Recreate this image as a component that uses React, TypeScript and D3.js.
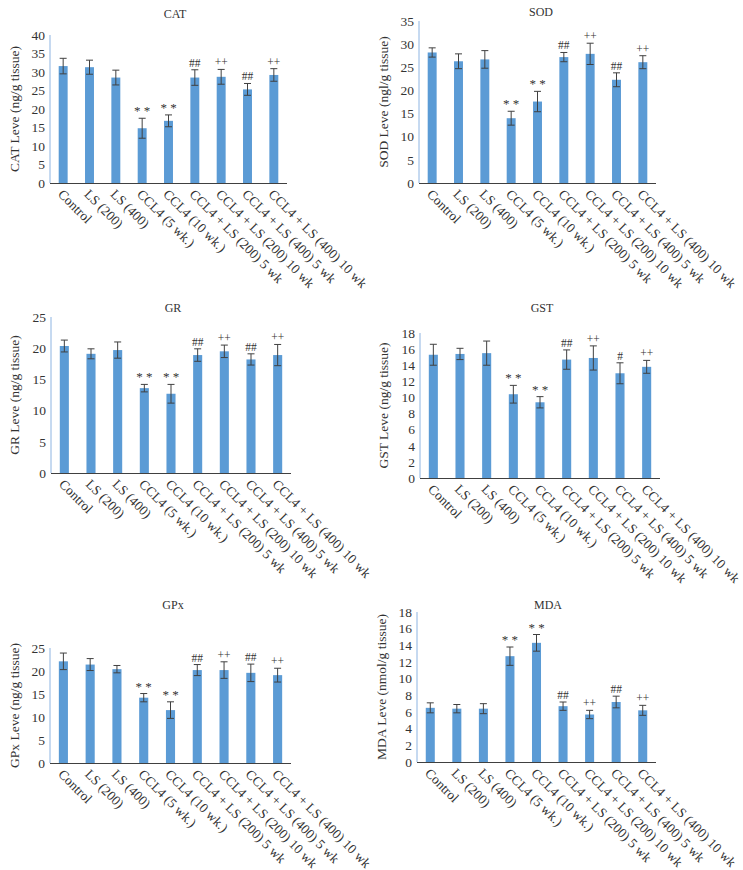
import React from 'react';
import * as d3 from 'd3';

// categories shared by all six panels
const groups = [
  'Control',
  'LS (200)',
  'LS (400)',
  'CCL4 (5 wk.)',
  'CCL4 (10 wk.)',
  'CCL4 + LS (200) 5 wk',
  'CCL4 + LS (200) 10 wk',
  'CCL4 + LS (400) 5 wk',
  'CCL4 + LS (400) 10 wk',
];

// significance marks above each bar
const marksA = ['', '', '', '* *', '* *', '##', '++', '##', '++'];
const marksGST = ['', '', '', '* *', '* *', '##', '++', '#', '++'];

// CAT
const catMean = [31.6, 31.3, 28.5, 14.8, 16.8, 28.5, 28.7, 25.3, 29.2];
const catErr = [2.1, 1.9, 2.0, 2.7, 1.6, 2.1, 2.0, 1.6, 1.7];
const catTicks = [0, 5, 10, 15, 20, 25, 30, 35, 40];

// SOD
const sodMean = [28.2, 26.3, 26.7, 14.0, 17.6, 27.2, 27.9, 22.3, 26.1];
const sodErr = [1.0, 1.6, 1.9, 1.5, 2.2, 1.0, 2.3, 1.5, 1.4];
const sodTicks = [0, 5, 10, 15, 20, 25, 30, 35];

// GR
const grMean = [20.35, 19.1, 19.7, 13.6, 12.7, 18.9, 19.5, 18.2, 18.9];
const grErr = [0.95, 0.8, 1.3, 0.6, 1.5, 1.0, 1.0, 0.9, 1.7];
const grTicks = [0, 5, 10, 15, 20, 25];

// GST
const gstMean = [15.3, 15.4, 15.5, 10.4, 9.4, 14.7, 14.9, 13.0, 13.8];
const gstErr = [1.3, 0.7, 1.5, 1.1, 0.7, 1.2, 1.5, 1.3, 0.8];
const gstTicks = [0, 2, 4, 6, 8, 10, 12, 14, 16, 18];

// GPx
const gpxMean = [22.1, 21.4, 20.4, 14.2, 11.5, 20.2, 20.2, 19.6, 19.1];
const gpxErr = [1.8, 1.3, 0.8, 0.9, 1.8, 1.2, 1.8, 1.9, 1.5];
const gpxTicks = [0, 5, 10, 15, 20, 25];

// MDA
const mdaMean = [6.5, 6.4, 6.4, 12.7, 14.3, 6.7, 5.7, 7.2, 6.2];
const mdaErr = [0.6, 0.5, 0.6, 1.1, 1.0, 0.5, 0.5, 0.7, 0.6];
const mdaTicks = [0, 2, 4, 6, 8, 10, 12, 14, 16, 18];

const FONT = '"Liberation Serif", "DejaVu Serif", serif';
const BAR = '#5b9bd5';
const INK = '#333';

type PanelProps = {
  title: string;
  yLabel: string;
  mean: number[];
  err: number[];
  marks: string[];
  ticks: number[];
  x0: number;
  x1: number;
  yTop: number;
  yBase: number;
  titleX: number;
  titleY: number;
  labelX: number;
};

const Panel = (p: PanelProps) => {
  const yMax = p.ticks[p.ticks.length - 1];
  const x = d3.scaleBand().domain(groups).range([p.x0, p.x1]).paddingInner(0.66).paddingOuter(0.33);
  const y = d3.scaleLinear().domain([0, yMax]).range([p.yBase, p.yTop]);
  const bw = x.bandwidth();
  const cap = 3.5;

  return (
    <g fontFamily={FONT}>
      <text x={p.titleX} y={p.titleY} textAnchor="middle" fontSize={12} fill={INK}>{p.title}</text>

      {/* y axis */}
      <line x1={p.x0} x2={p.x0} y1={y(yMax)} y2={p.yBase} stroke="#8db4e2" strokeWidth={1} />
      {p.ticks.map((t) => (
        <text key={t} x={p.x0 - 5} y={y(t)} dy="0.35em" textAnchor="end" fontSize={13.5} fill={INK}>{t}</text>
      ))}
      <text
        transform={`translate(${p.labelX},${(y(yMax) + p.yBase) / 2}) rotate(-90)`}
        textAnchor="middle"
        dy="0.35em"
        fontSize={13.5}
        fill={INK}
      >{p.yLabel}</text>

      {/* bars */}
      {groups.map((g, i) => {
        const cx = (x(g) as number) + bw / 2;
        const top = y(p.mean[i] + p.err[i]);
        const bot = y(p.mean[i] - p.err[i]);
        return (
          <g key={g}>
            <rect x={x(g)} y={y(p.mean[i])} width={bw} height={p.yBase - y(p.mean[i])} fill={BAR} />
            <line x1={cx} x2={cx} y1={top} y2={bot} stroke="#404040" strokeWidth={1} />
            <line x1={cx - cap} x2={cx + cap} y1={top} y2={top} stroke="#404040" strokeWidth={1} />
            <line x1={cx - cap} x2={cx + cap} y1={bot} y2={bot} stroke="#404040" strokeWidth={1} />
            {p.marks[i] && (
              <text x={cx} y={top - 3} textAnchor="middle" fill={INK}
                fontSize={p.marks[i].includes('*') ? 13 : 11.5}>{p.marks[i]}</text>
            )}
            <text
              transform={`translate(${cx - 6},${p.yBase + 12}) rotate(45)`}
              fontSize={13.5}
              fill={INK}
            >{g}</text>
          </g>
        );
      })}

      {/* x axis */}
      <line x1={p.x0} x2={p.x1} y1={p.yBase + 0.5} y2={p.yBase + 0.5} stroke="#404040" strokeWidth={1} />
    </g>
  );
};

const App = () => {
  return (
    <div style={{ position: 'absolute', left: 0, top: 0 }}>
      <svg width={743} height={870} style={{ display: 'block', background: '#fff' }}>
        <Panel title="CAT" yLabel="CAT Leve (ng/g tissue)" mean={catMean} err={catErr} marks={marksA} ticks={catTicks}
          x0={50} x1={287} yTop={35} yBase={183} titleX={175} titleY={18} labelX={14} />
        <Panel title="SOD" yLabel="SOD Leve (ngl/g tissue)" mean={sodMean} err={sodErr} marks={marksA} ticks={sodTicks}
          x0={419} x1={656} yTop={21} yBase={183} titleX={541} titleY={16} labelX={383} />
        <Panel title="GR" yLabel="GR Leve (ng/g tissue)" mean={grMean} err={grErr} marks={marksA} ticks={grTicks}
          x0={51} x1={291} yTop={317} yBase={473} titleX={173} titleY={312} labelX={14} />
        <Panel title="GST" yLabel="GST Leve (ng/g tissue)" mean={gstMean} err={gstErr} marks={marksGST} ticks={gstTicks}
          x0={420} x1={660} yTop={333} yBase={478} titleX={542} titleY={312} labelX={383} />
        <Panel title="GPx" yLabel="GPx Leve (ng/g tissue)" mean={gpxMean} err={gpxErr} marks={marksA} ticks={gpxTicks}
          x0={50} x1={291} yTop={648} yBase={763} titleX={173} titleY={609} labelX={14} />
        <Panel title="MDA" yLabel="MDA Leve (nmol/g tissue)" mean={mdaMean} err={mdaErr} marks={marksA} ticks={mdaTicks}
          x0={417} x1={656} yTop={612} yBase={762} titleX={548} titleY={609} labelX={381} />
      </svg>
    </div>
  );
};

export default App;
